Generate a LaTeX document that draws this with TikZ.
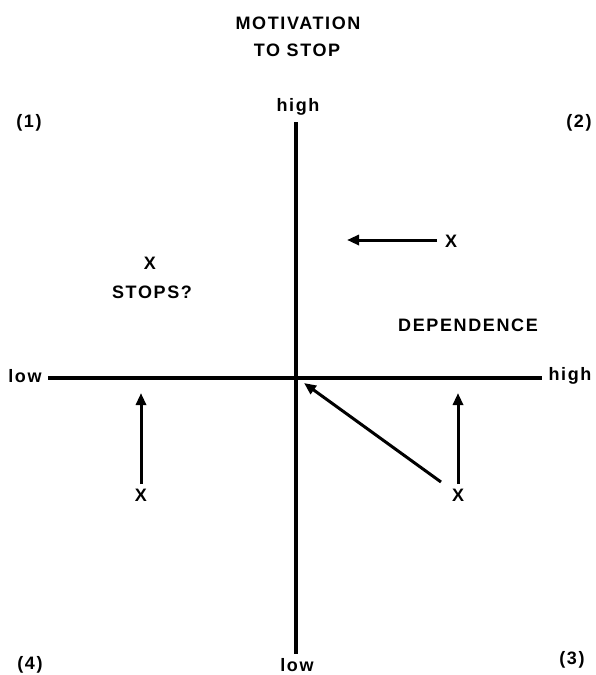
\documentclass[tikz,border=0pt]{standalone}
\usepackage{fontspec}
\setmainfont{Liberation Sans}
\newfontfamily\labfont[LetterSpace=9]{Liberation Sans}
\usetikzlibrary{arrows.meta}
\tikzset{
  lab/.style={font=\labfont\bfseries\fontsize{18}{21}\selectfont, inner sep=0pt, anchor=center},
  axis/.style={line width=3.2pt},
  arr/.style={line width=3pt, -{Triangle[length=12pt,width=10pt]}},
  plain/.style={line width=3pt}
}
\begin{document}
\begin{tikzpicture}[x=1pt,y=-1pt]
\useasboundingbox (0,0) rectangle (595,675);
% titles
\node[lab] (t1) at (298,23) {MOTIVATION};
\node[lab] (t2) at (297,50) {TO STOP};
% quadrant numbers
\node[lab] (q1) at (29,123) {(1)};
\node[lab] (q2) at (579,123) {(2)};
\node[lab] (q3) at (572,660) {(3)};
\node[lab] (q4) at (30,665) {(4)};
% axis labels
\node[lab] (vh) at (298,107) {high};
\node[lab] (vl) at (297,665) {low};
\node[lab] (hl) at (25,376) {low};
\node[lab] (hh) at (570,376) {high};
% axes
\coordinate (vt) at (296,122);
\coordinate (vb) at (296,654);
\coordinate (hs) at (48,378);
\coordinate (he) at (542,378);
\draw[axis] (vt) -- (vb);
\draw[axis] (hs) -- (he);
% quadrant texts
\node[lab] (x1) at (150,263) {X};
\node[lab] (stops) at (152,292) {STOPS?};
\node[lab] (dep) at (468,325) {DEPENDENCE};
% top-right arrow
\node[lab] (x2) at (451,241) {X};
\coordinate (a2s) at (437,240);
\coordinate (a2e) at (347,240);
\draw[arr] (a2s) -- (a2e);
% bottom-left arrow
\node[lab] (x3) at (141,495) {X};
\coordinate (a3s) at (141,484);
\coordinate (a3e) at (141,393);
\draw[arr] (a3s) -- (a3e);
% bottom-right arrows
\node[lab] (x4) at (458,495) {X};
\coordinate (a4s) at (458,484);
\coordinate (a4e) at (458,393);
\draw[arr] (a4s) -- (a4e);
\coordinate (d1) at (441,482);
\coordinate (d2) at (304,383);
\draw[arr] (d1) -- (d2);
\end{tikzpicture}
\end{document}
